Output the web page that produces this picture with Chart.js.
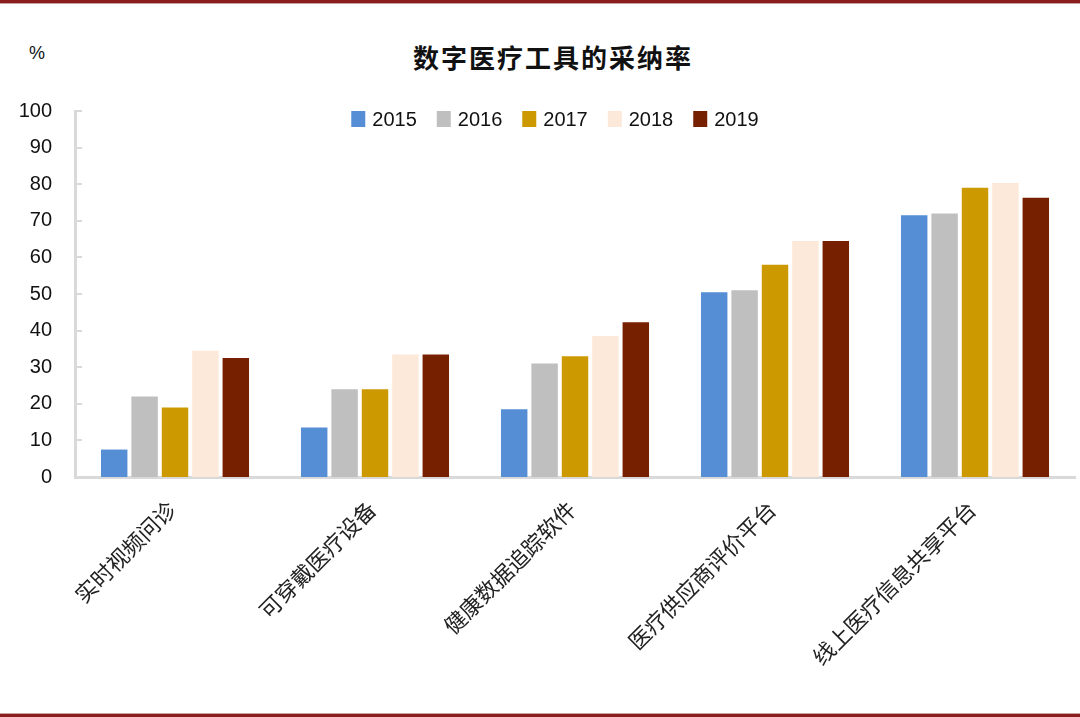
<!DOCTYPE html>
<html lang="zh-CN">
<head>
    <meta charset="UTF-8">
    <title>数字医疗工具的采纳率</title>
    <script src="https://cdn.jsdelivr.net/npm/chart.js"></script>
    <style>
        body { margin: 0; background: #fff; }
        .wrap { position: relative; width: 1080px; height: 717px; overflow: hidden; }
        .line-top { position: absolute; left: 0; top: 0; width: 1080px; height: 3px; background: #8a1d1d; border-bottom: 1px solid #c9a3a3; }
        .line-bottom { position: absolute; left: 0; bottom: 0; width: 1080px; height: 3px; background: #8a1d1d; border-top: 1px solid #c9a3a3; }
        .title { position: absolute; left: 0; width: 1106px; top: 38px; text-align: center;
                 font: bold 26px "Noto Sans CJK SC", sans-serif; letter-spacing: 2px; color: #111; }
        .unit { position: absolute; left: 29px; top: 43px; font: 18px "Liberation Sans", Arial, sans-serif; color: #111; }
        canvas { position: absolute; left: 0; top: 0; }
    </style>
</head>
<body>
<div class="wrap">
    <div class="line-top"></div>
    <div class="unit">%</div>
    <div class="title">数字医疗工具的采纳率</div>
    <canvas id="chart" width="1080" height="717"></canvas>
    <div class="line-bottom"></div>
</div>

<script>
    // 数据
    const categories = ['实时视频问诊', '可穿戴医疗设备', '健康数据追踪软件', '医疗供应商评价平台', '线上医疗信息共享平台'];
    const years = ['2015', '2016', '2017', '2018', '2019'];
    const v2015 = [7.5, 13.5, 18.5, 50.5, 71.5];
    const v2016 = [22, 24, 31, 51, 72];
    const v2017 = [19, 24, 33, 58, 79];
    const v2018 = [34.5, 33.5, 38.5, 64.5, 80.3];
    const v2019 = [32.5, 33.5, 42.3, 64.5, 76.3];
    const yTicks = [0, 10, 20, 30, 40, 50, 60, 70, 80, 90, 100];

    const series = [v2015, v2016, v2017, v2018, v2019];
    const colors = ['#558ed5', '#bfbfbf', '#cc9900', '#fde9d9', '#772000'];

    // y轴内侧刻度线
    const innerTicks = {
        id: 'innerTicks',
        afterDraw(chart) {
            const y = chart.scales.y, ctx = chart.ctx;
            ctx.save();
            ctx.strokeStyle = '#d9d9d9';
            ctx.lineWidth = 2;
            yTicks.forEach(t => {
                const py = Math.round(y.getPixelForValue(t));
                ctx.beginPath();
                ctx.moveTo(y.right, py);
                ctx.lineTo(y.right + 7, py);
                ctx.stroke();
            });
            ctx.restore();
        }
    };

    // 图例画在绘图区内的顶部, 横排
    const topLegend = {
        id: 'topLegend',
        afterDraw(chart) {
            const ctx = chart.ctx;
            const ds = chart.data.datasets;
            ctx.save();
            ctx.font = '20px "Liberation Sans", Arial, sans-serif';
            ctx.textBaseline = 'middle';
            ctx.textAlign = 'left';
            const items = ds.map(d => 14 + 7 + ctx.measureText(d.label).width);
            const gap = 20;
            const total = items.reduce((a, b) => a + b, 0) + gap * (items.length - 1);
            let x = 555 - total / 2;
            const cy = 119;
            ds.forEach((d, i) => {
                ctx.fillStyle = d.backgroundColor;
                ctx.fillRect(x, cy - 8, 14, 16);
                ctx.fillStyle = '#111';
                ctx.fillText(d.label, x + 21, cy + 1);
                x += items[i] + gap;
            });
            ctx.restore();
        }
    };

    new Chart(document.getElementById('chart'), {
        type: 'bar',
        data: {
            labels: categories,
            datasets: years.map((yr, i) => ({
                label: yr,
                data: series[i],
                backgroundColor: colors[i],
                categoryPercentage: 0.76,
                barPercentage: 0.87
            }))
        },
        options: {
            responsive: false,
            animation: false,
            layout: { padding: { top: 111, right: 5, left: 0, bottom: 0 } },
            plugins: {
                legend: { display: false },
                tooltip: { enabled: false }
            },
            scales: {
                x: {
                    afterFit: s => { s.height = 240; },
                    grid: { display: false, drawTicks: false },
                    border: { color: '#d9d9d9', width: 3 },
                    ticks: {
                        maxRotation: 45, minRotation: 45,
                        padding: 19, labelOffset: -3,
                        color: '#222',
                        font: { family: '"Noto Sans CJK SC", sans-serif', size: 22 }
                    }
                },
                y: {
                    min: 0, max: 100,
                    afterFit: s => { s.width = 75; },
                    afterBuildTicks: s => { s.ticks = yTicks.map(v => ({ value: v })); },
                    grid: { display: false, drawTicks: false },
                    border: { color: '#d9d9d9', width: 3 },
                    ticks: {
                        padding: 23,
                        color: '#111',
                        font: { family: '"Liberation Sans", Arial, sans-serif', size: 20 }
                    }
                }
            }
        },
        plugins: [innerTicks, topLegend]
    });
</script>
</body>
</html>
